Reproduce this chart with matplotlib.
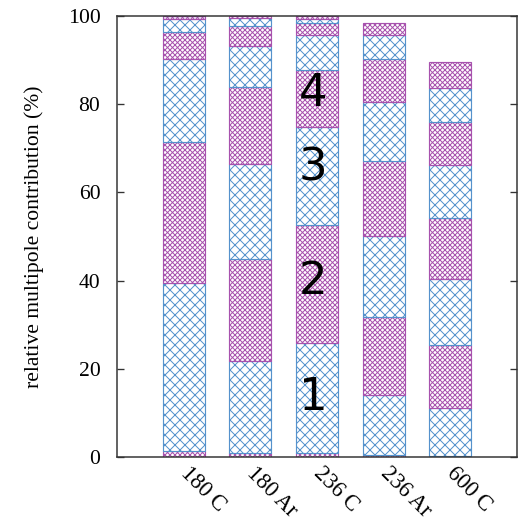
import matplotlib
matplotlib.use("Agg")
import matplotlib.pyplot as plt
import numpy as np

# ---- data (percent contribution of each multipole order, per sample) ----
samples = ["180 C", "180 Ar", "236 C", "236 Ar", "600 C"]
l0 = [1.4, 0.9, 0.9, 0.5, 0.3]
l1 = [38.1, 20.8, 25.0, 13.6, 10.7]
l2 = [31.9, 23.3, 26.7, 17.6, 14.3]
l3 = [18.8, 21.4, 22.2, 18.3, 15.0]
l4 = [6.1, 17.5, 13.0, 17.1, 14.0]
l5 = [3.0, 9.4, 7.8, 13.3, 12.0]
l6 = [0.7, 4.5, 2.8, 9.9, 9.7]
l7 = [0.0, 1.7, 0.9, 5.5, 7.7]
l8 = [0.0, 0.5, 0.7, 2.6, 5.8]
orders = [l0, l1, l2, l3, l4, l5, l6, l7, l8]
order_labels = ["1", "2", "3", "4"]
order_label_y = [13.6, 39.7, 65.6, 82.4]
yticks = [0, 20, 40, 60, 80, 100]

DPI = 120
plt.rcParams["hatch.linewidth"] = 0.6
plt.rcParams["font.family"] = ["Liberation Serif", "DejaVu Serif"]

fig = plt.figure(figsize=(525 / DPI, 524 / DPI), dpi=DPI)
ax = fig.add_axes([117 / 525, 1 - 457 / 524, 400 / 525, 441 / 524])

blue = "#5592cc"
magenta = "#a852ae"
x = np.arange(len(samples))
width = 0.63
bottom = np.zeros(len(samples))
for i, vals in enumerate(orders):
    vals = np.array(vals, dtype=float)
    if i % 2 == 0:
        col, hatch = magenta, "xxxxxxxx"
    else:
        col, hatch = blue, "xxxx"
    ax.bar(x, vals, width=width, bottom=bottom, facecolor="white",
           edgecolor=col, hatch=hatch, linewidth=0.7, zorder=2)
    bottom += vals

for lab, yy in zip(order_labels, order_label_y):
    ax.text(1.94, yy, lab, fontsize=27, family="DejaVu Sans",
            ha="center", va="center", zorder=5)

ax.set_xlim(-1, 5)
ax.set_ylim(0, 100)
ax.set_yticks(yticks)
ax.set_yticklabels([str(v) for v in yticks], fontsize=13)
ax.set_xticks(x)
ax.set_xticklabels(samples, fontsize=13.5, rotation=-45, ha="left",
                   va="center", rotation_mode="anchor")
ax.tick_params(axis="y", direction="in", length=4, width=0.8,
               right=True, left=True, pad=10, color="#333333")
ax.tick_params(axis="x", length=0, pad=8)
ax.set_ylabel("relative multipole contribution (%)", fontsize=13, labelpad=14)
for s in ax.spines.values():
    s.set_linewidth(0.9)
    s.set_color("#333333")

fig.savefig("out.png", dpi=DPI)
